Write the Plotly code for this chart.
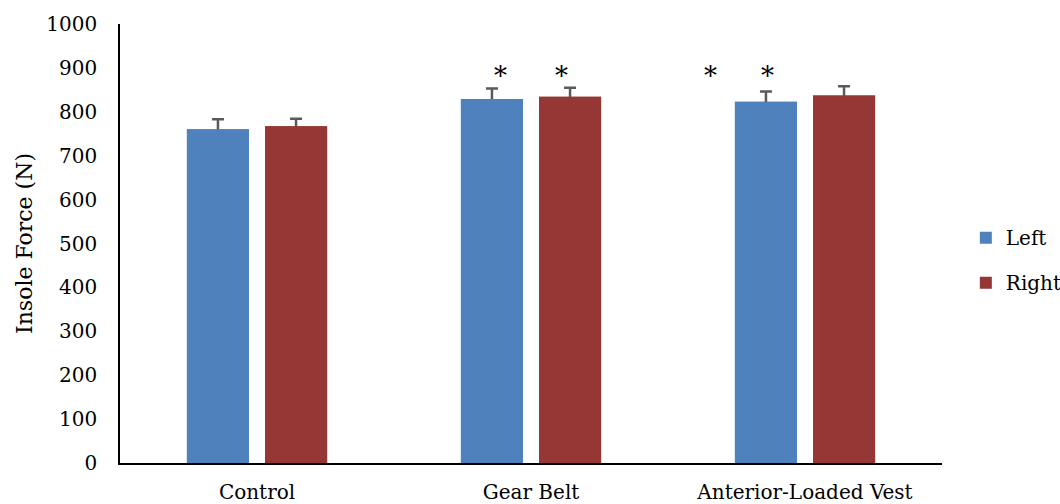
import plotly.graph_objects as go

# Mean insole force per condition, with standard-deviation whiskers
conditions = ["Control", "Gear Belt", "Anterior-Loaded Vest"]
left_force = [760, 829, 823]
right_force = [767, 834, 837]
left_err = [23, 24, 23]
right_err = [17, 21, 21]

# Significance markers: (condition, horizontal offset in px)
sig_marks = [("Gear Belt", -31), ("Gear Belt", 30),
             ("Anterior-Loaded Vest", -95), ("Anterior-Loaded Vest", -38)]
sig_level = 882

FONT = "DejaVu Serif"
BLUE = "#4F81BD"
RED = "#953735"
ERR = "#5A5A5A"

series = [("Left", left_force, left_err, BLUE),
          ("Right", right_force, right_err, RED)]

fig = go.Figure()
# Bars with whiskers first ...
for name, vals, err, col in series:
    fig.add_trace(go.Bar(
        name=name, x=conditions, y=vals, marker_color=col,
        marker_line_width=0, offsetgroup=name, legendgroup=name,
        error_y=dict(type="data", array=err, visible=True,
                     color=ERR, thickness=2.5, width=6),
    ))
# ... then the same bars again on top, so only the upper whisker shows
for name, vals, err, col in series:
    fig.add_trace(go.Bar(
        name=name, x=conditions, y=vals, marker_color=col,
        marker_line_width=0, offsetgroup=name, legendgroup=name,
        showlegend=False, hoverinfo="skip",
    ))

for cat, dx in sig_marks:
    fig.add_annotation(x=cat, y=sig_level, text="*", showarrow=False,
                       xshift=dx, yanchor="middle",
                       font=dict(family=FONT, size=26, color="black"))

fig.update_layout(
    width=1060, height=504,
    margin=dict(l=120, r=118, t=24, b=41, autoexpand=False),
    paper_bgcolor="white", plot_bgcolor="white",
    barmode="group", bargap=0.43, bargroupgap=0.205,
    font=dict(family=FONT, size=20, color="black"),
    showlegend=True,
    legend=dict(x=1.029, y=0.462, xanchor="left", yanchor="middle",
                traceorder="grouped", tracegroupgap=16,
                font=dict(family=FONT, size=20), itemwidth=30),
    xaxis=dict(showline=True, linecolor="black", linewidth=1.5,
               ticks="", showgrid=False, tickfont=dict(size=20),
               ticklabelstandoff=10, automargin=False),
    yaxis=dict(range=[0, 1000], dtick=100, showline=True, linecolor="black",
               linewidth=1.5, ticks="", showgrid=False, zeroline=False,
               tickfont=dict(size=20), ticklabelstandoff=17,
               automargin=False,
               title=dict(text="Insole Force (N)", font=dict(size=22),
                          standoff=8)),
)

fig.write_html("out.html")
